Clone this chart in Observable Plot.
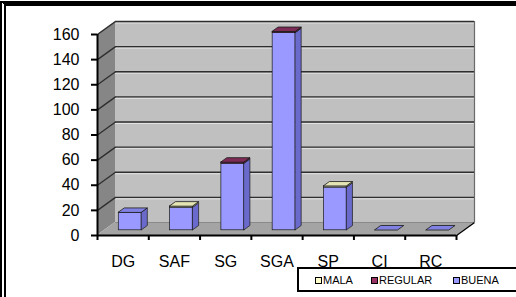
<!DOCTYPE html>
<html><head><meta charset="utf-8">
<script src="https://cdn.jsdelivr.net/npm/d3@7"></script>
<script src="https://cdn.jsdelivr.net/npm/@observablehq/plot@0.6"></script>
<style>
html,body{margin:0;padding:0;background:#fff;}
#wrap{position:relative;width:516px;height:297px;overflow:hidden;font-family:"Liberation Sans",Arial,sans-serif;}
#chart{position:absolute;left:0;top:0;}
#frame{position:absolute;left:0;top:1px;width:530px;height:310px;border-top:5px solid #000;border-left:6px double #000;pointer-events:none;box-sizing:border-box;}
#legend{position:absolute;left:297px;top:267px;width:240px;height:25px;border:2px solid #000;background:#fff;box-sizing:border-box;font-size:11px;color:#000;}
#legend .it{position:absolute;top:0;height:21px;line-height:22px;white-space:nowrap;}
#legend .sw{display:inline-block;width:5px;height:5px;border:1.5px solid #000;margin-right:1px;vertical-align:0px;}
</style></head>
<body>
<div id="wrap"><div id="chart"></div><div id="frame"></div><div id="legend"></div></div>
<script>
const categories = ["DG","SAF","SG","SGA","SP","CI","RC"];
const mala    = [0, 1, 0, 0, 1, 0, 0];
const regular = [0, 0, 1, 1, 0, 0, 0];
const buena   = [14, 18, 53, 157, 34, 0, 0];
const yTicks  = [0, 20, 40, 60, 80, 100, 120, 140, 160];
const seriesNames = ["MALA", "REGULAR", "BUENA"];

const front = {MALA: "#ffffcc", REGULAR: "#993366", BUENA: "#9999ff"};
const side  = {MALA: "#c2c29a", REGULAR: "#6e2449", BUENA: "#6a6acc"};
const topC  = {MALA: "#e4e4b4", REGULAR: "#7d2a55", BUENA: "#8181e4"};

const N = categories.length;
const yMax = yTicks[yTicks.length - 1];
const DX = 0.351, DY = 10.35;      // depth of the 3D box in data units
const F0 = 0.4, F1 = 0.73;         // bar depth placement
const BW = 0.45;                   // bar width

const segments = [], tops = [];
categories.forEach((c, i) => {
  let base = 0, topName = "BUENA";
  for (const [name, arr] of [["BUENA", buena], ["REGULAR", regular], ["MALA", mala]]) {
    const v = arr[i];
    if (v > 0) { segments.push({i, name, y1: base, y2: base + v}); base += v; topName = name; }
  }
  tops.push({i, name: topName, total: base});
});
const xl = i => i + 0.5 - BW / 2 + F0 * DX;
const xr = i => xl(i) + BW;
const dd = (F1 - F0) * DX;

const sidePts = segments.flatMap((s, k) => [
  {id: k, name: s.name, x: xr(s.i), y1: s.y1 + F0 * DY, y2: s.y2 + F0 * DY},
  {id: k, name: s.name, x: xr(s.i) + dd, y1: s.y1 + F1 * DY, y2: s.y2 + F1 * DY}
]);
const topPts = tops.flatMap(t => [
  {id: t.i, name: t.name, y: t.total + F0 * DY, x1: xl(t.i), x2: xr(t.i)},
  {id: t.i, name: t.name, y: t.total + F1 * DY, x1: xl(t.i) + dd, x2: xr(t.i) + dd}
]);
const wallSide = [{x: 0, y1: 0, y2: yMax}, {x: DX, y1: DY, y2: yMax + DY}];
const floor = [{y: 0, x1: 0, x2: N}, {y: DY, x1: DX, x2: N + DX}];

const plot = Plot.plot({
  width: 516, height: 297,
  marginLeft: 97, marginRight: 60, marginTop: 34, marginBottom: 62,
  style: {fontFamily: "'Liberation Sans', Arial, sans-serif", background: "transparent", color: "#000"},
  x: {type: "linear", domain: [0, N], axis: null},
  y: {domain: [0, yMax], axis: null},
  color: {type: "identity"},
  marks: [
    Plot.rect([{}], {x1: DX, x2: N + DX, y1: DY, y2: yMax + DY, fill: "#c0c0c0"}),
    Plot.areaY(wallSide, {x: "x", y1: "y1", y2: "y2", fill: "#868686"}),
    Plot.areaX(floor, {y: "y", x1: "x1", x2: "x2", fill: "#a4a4a4"}),
    Plot.ruleY(yTicks.slice(1), {y: d => d + DY, x1: DX, x2: N + DX, stroke: "#e2e2e2", strokeWidth: 1, dy: 1.5}),
    Plot.ruleY(yTicks.slice(1), {y: d => d + DY, x1: DX, x2: N + DX, stroke: "#2e2e2e", strokeWidth: 1.3}),
    Plot.link(yTicks.slice(1), {x1: 0, y1: d => d, x2: DX, y2: d => d + DY, stroke: "#2e2e2e", strokeWidth: 1.3}),
    Plot.ruleY([0], {y: DY, x1: DX, x2: N + DX, stroke: "#8a8a8a", strokeWidth: 1}),
    Plot.ruleX([N + DX], {y1: DY, y2: yMax + DY, stroke: "#6a6a6a", strokeWidth: 1.2}),
    Plot.link([0], {x1: N, y1: 0, x2: N + DX, y2: DY, stroke: "#000", strokeWidth: 1.5}),
    Plot.ruleX([0], {y1: 0, y2: yMax, stroke: "#000", strokeWidth: 2}),
    Plot.ruleY([0], {x1: 0, x2: N, stroke: "#000", strokeWidth: 2}),
    Plot.axisY({ticks: yTicks, tickSize: 6, tickFormat: () => "", strokeWidth: 2}),
    Plot.axisY({ticks: yTicks, tickSize: 0, tickPadding: 18, fontSize: 16, tickFormat: d => d}),
    Plot.axisX({ticks: d3.range(N + 1), tickSize: 5, tickFormat: () => "", strokeWidth: 2}),
    Plot.axisX({ticks: d3.range(N).map(i => i + 0.5), tickSize: 0, tickPadding: 20, fontSize: 16,
                tickFormat: d => categories[Math.floor(d)]}),
    Plot.rect(segments, {x1: d => xl(d.i), x2: d => xr(d.i), y1: d => d.y1 + F0 * DY, y2: d => d.y2 + F0 * DY,
                         fill: d => front[d.name], stroke: "#1a1a1a", strokeWidth: 0.7}),
    Plot.areaY(sidePts, {x: "x", y1: "y1", y2: "y2", z: "id", fill: d => side[d.name], stroke: "#1a1a1a", strokeWidth: 0.7}),
    Plot.areaX(topPts, {y: "y", x1: "x1", x2: "x2", z: "id", fill: d => topC[d.name], stroke: "#1a1a1a", strokeWidth: 0.8})
  ]
});
document.getElementById("chart").appendChild(plot);

const legend = document.getElementById("legend");
const legendX = [16, 72, 154];
seriesNames.forEach((s, k) => {
  const it = document.createElement("div");
  it.className = "it";
  it.style.left = legendX[k] + "px";
  it.innerHTML = `<span class="sw" style="background:${front[s]}"></span>${s}`;
  legend.appendChild(it);
});
</script>
</body></html>
